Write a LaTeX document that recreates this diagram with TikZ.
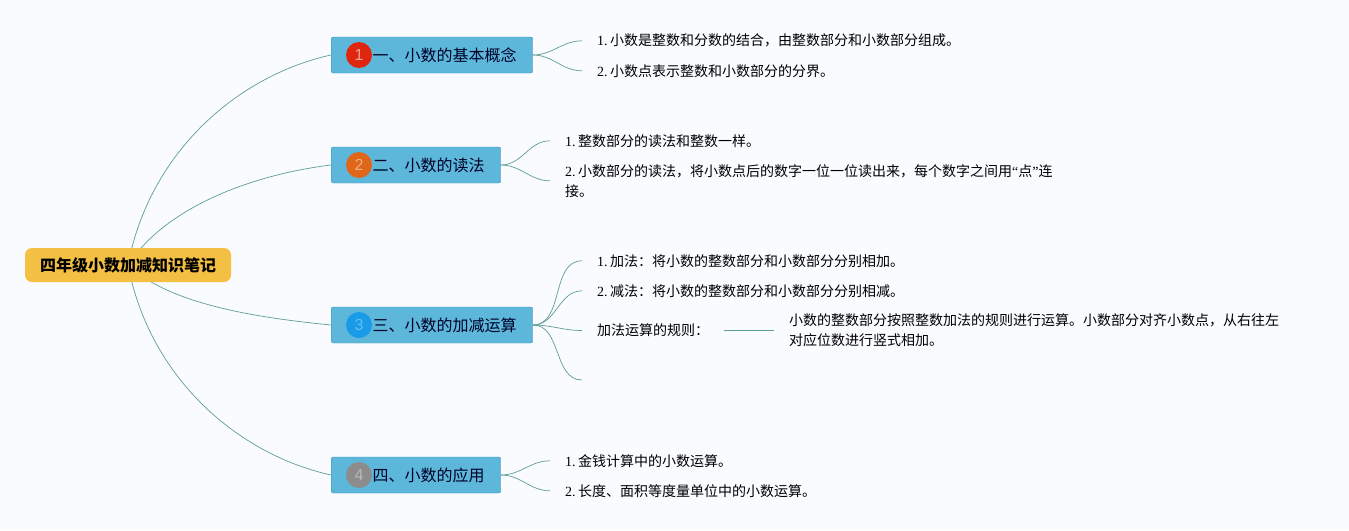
\documentclass[tikz,border=0pt]{standalone}
\usepackage{fontspec}
\setmainfont{Liberation Serif}
\newfontfamily\cjk{Noto Sans CJK SC}
\newfontfamily\badgefont{Liberation Sans}
\usetikzlibrary{backgrounds}
\definecolor{pagebg}{HTML}{F9FBFF}
\definecolor{linkgreen}{HTML}{5F9E92}
\definecolor{topicblue}{HTML}{5CB7DB}
\definecolor{topicedge}{HTML}{4193AD}
\definecolor{rootgold}{HTML}{F4C044}
\newcommand{\itemno}[1]{#1.\hspace{2.5pt}}
\tikzset{
	rootbox/.style={fill=rootgold, rounded corners=7pt, minimum width=206pt, minimum height=34pt, inner sep=0pt, font=\fontsize{16}{20}\selectfont\cjk\bfseries},
	topicbox/.style={fill=topicblue, draw=topicedge, rounded corners=2pt, minimum height=36pt, inner xsep=16pt, inner ysep=0pt, align=right, anchor=west, text=black!85!blue, font=\fontsize{16}{20}\selectfont\cjk},
	badge/.style={circle, minimum size=26pt, inner sep=0pt, font=\fontsize{16}{16}\selectfont\badgefont},
	leaf/.style={anchor=west, inner xsep=15pt, inner ysep=2pt, align=left, font=\fontsize{14}{20}\selectfont},
	link/.style={draw=linkgreen, line width=0.7pt},
}
\begin{document}
\begin{tikzpicture}[x=1pt, y=-1pt]
	\useasboundingbox (0,0) rectangle (1349,530);
	\node[rootbox] (root) at (128,265) {四年级小数加减知识笔记};
	% topics
	\node[topicbox, text width=169.5pt] (topicA) at (331,55) {一、小数的基本概念};
	\node[topicbox, text width=137.5pt] (topicB) at (331,165) {二、小数的读法};
	\node[topicbox, text width=169.5pt] (topicC) at (331,325) {三、小数的加减运算};
	\node[topicbox, text width=137.5pt] (topicD) at (331,475) {四、小数的应用};
	\node[badge, fill={rgb,255:red,224;green,38;blue,14}, text={rgb,255:red,240;green,165;blue,150}] (badgeA) at (359,55) {1};
	\node[badge, fill={rgb,255:red,224;green,102;blue,26}, text={rgb,255:red,235;green,175;blue,130}] (badgeB) at (359,165) {2};
	\node[badge, fill={rgb,255:red,26;green,155;blue,232}, text={rgb,255:red,100;green,190;blue,240}] (badgeC) at (359,325) {3};
	\node[badge, fill=black!45, text=black!28] (badgeD) at (359,475) {4};
	% leaves
	\node[leaf] (leafAa) at (582,40.8) {\itemno{1}{\cjk 小数是整数和分数的结合，由整数部分和小数部分组成。}};
	\node[leaf] (leafAb) at (582,70.8) {\itemno{2}{\cjk 小数点表示整数和小数部分的分界。}};
	\node[leaf] (leafBa) at (550,140.8) {\itemno{1}{\cjk 整数部分的读法和整数一样。}};
	\node[leaf] (leafBb) at (550,180.8) {\itemno{2}{\cjk 小数部分的读法，将小数点后的数字一位一位读出来，每个数字之间用}“{\cjk 点}”{\cjk 连}\\{\cjk 接。}};
	\node[leaf] (leafCa) at (582,260.8) {\itemno{1}{\cjk 加法：将小数的整数部分和小数部分分别相加。}};
	\node[leaf] (leafCb) at (582,290.8) {\itemno{2}{\cjk 减法：将小数的整数部分和小数部分分别相减。}};
	\node[leaf, text width=112pt] (leafCc) at (582,330.5) {\cjk 加法运算的规则：};
	\node[leaf] (leafCd) at (774,330.5) {{\cjk 小数的整数部分按照整数加法的规则进行运算。小数部分对齐小数点，从右往左}\\{\cjk 对应位数进行竖式相加。}};
	\coordinate (leafCe) at (582,380);
	\node[leaf] (leafDa) at (550,460.8) {\itemno{1}{\cjk 金钱计算中的小数运算。}};
	\node[leaf] (leafDb) at (550,490.8) {\itemno{2}{\cjk 长度、面积等度量单位中的小数运算。}};
	\begin{scope}[on background layer]
		\fill[pagebg] (0,0) rectangle (1349,530);
		\draw[link] (root.center) .. controls (150,150) and (240,75) .. (topicA.west);
		\draw[link] (root.center) .. controls (165,208) and (250,175) .. (topicB.west);
		\draw[link] (root.center) .. controls (170,305) and (260,318) .. (topicC.west);
		\draw[link] (root.center) .. controls (150,380) and (240,455) .. (topicD.west);
	\end{scope}
	\foreach \a/\b in {topicA/leafAa, topicA/leafAb, topicB/leafBa, topicB/leafBb, topicC/leafCa, topicC/leafCb, topicC/leafCc, topicC/leafCe, topicD/leafDa, topicD/leafDb} {
		\draw[link] (\a.east) to[out=0, in=180] (\b.west);
	}
	\draw[link] (leafCc.east) -- (leafCd.west);
\end{tikzpicture}
\end{document}
